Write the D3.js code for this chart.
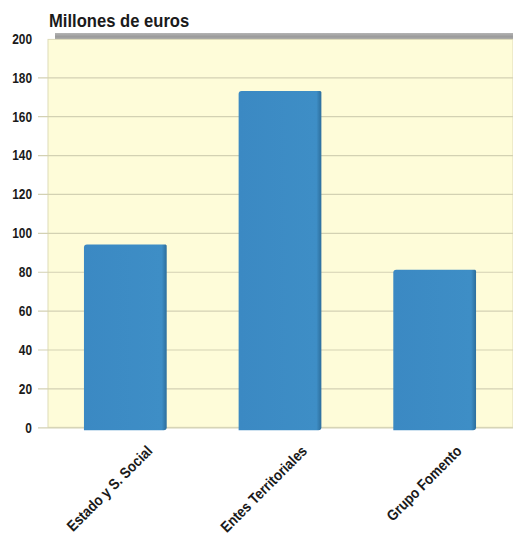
<!DOCTYPE html>
<html>
<head>
<meta charset="utf-8">
<script src="https://cdn.jsdelivr.net/npm/d3@7"></script>
<style>
  html, body { margin: 0; padding: 0; background: #ffffff; }
  svg { display: block; }
  text { font-family: "Liberation Sans", Arial, sans-serif; font-weight: bold; fill: #1a1a1a; }
</style>
</head>
<body>
<svg id="chart" width="513" height="538"></svg>
<script>
const categories = ["Estado y S. Social", "Entes Territoriales", "Grupo Fomento"];
const values = [94, 173, 81];
const yTicks = [0, 20, 40, 60, 80, 100, 120, 140, 160, 180, 200];
const title = "Millones de euros";

const svg = d3.select("#chart");
const plot = { left: 48, right: 513, top: 39, bottom: 427 };

const x = d3.scaleBand()
  .domain(categories)
  .range([plot.left, plot.right - 1])
  .paddingInner(0.465)
  .paddingOuter(0.2325);

const y = d3.scaleLinear()
  .domain([0, 200])
  .range([427.3, 38.4]);

const defs = svg.append("defs");
const gTop = defs.append("linearGradient").attr("id", "topwall").attr("x1", 0).attr("y1", 0).attr("x2", 0).attr("y2", 1);
gTop.append("stop").attr("offset", "0%").attr("stop-color", "#b4b4b4");
gTop.append("stop").attr("offset", "50%").attr("stop-color", "#9c9c9c");
gTop.append("stop").attr("offset", "100%").attr("stop-color", "#aaaaaa");

const gBar = defs.append("linearGradient").attr("id", "bar").attr("x1", 0).attr("y1", 0).attr("x2", 1).attr("y2", 0);
gBar.append("stop").attr("offset", "0%").attr("stop-color", "#3b89c3");
gBar.append("stop").attr("offset", "94%").attr("stop-color", "#3e8ec6");
gBar.append("stop").attr("offset", "98%").attr("stop-color", "#3278a9");
gBar.append("stop").attr("offset", "100%").attr("stop-color", "#2e6f9e");

// top gray wall (3D effect)
svg.append("rect")
  .attr("x", plot.left + 7).attr("y", 33)
  .attr("width", plot.right - plot.left - 7).attr("height", 7)
  .attr("fill", "url(#topwall)");

// plot background
svg.append("rect")
  .attr("x", plot.left).attr("y", y(200) + 1)
  .attr("width", plot.right - plot.left).attr("height", y(0) - y(200) - 1)
  .attr("fill", "#fefcd9")
  .attr("stroke", "#dedbb8").attr("stroke-width", 1);

// gridlines + ticks
const yAxis = d3.axisLeft(y).tickValues(yTicks).tickSize(-(plot.right - 38)).tickPadding(6);
const ga = svg.append("g").attr("transform", `translate(${plot.right},0)`);
ga.call(yAxis);
ga.select(".domain").remove();
ga.selectAll(".tick line")
  .attr("stroke", "#d3d1b3").attr("stroke-width", 1.2)
  .attr("x1", -(plot.right - 38)).attr("x2", 0)
  .filter(d => d === 200).remove();
ga.selectAll(".tick text")
  .attr("x", null)
  .attr("dy", null)
  .attr("transform", `translate(${-(plot.right - 32)},0) scale(0.85,1)`)
  .attr("dominant-baseline", "central")
  .attr("text-anchor", "end")
  .style("font-size", "14px")
  .style("font-family", "'Liberation Sans', Arial, sans-serif")
  .style("font-weight", "bold")
  .attr("fill", "#1a1a1a");

// bars
const r = 3;
svg.append("g").selectAll("path")
  .data(categories.map((c, i) => ({ c, v: values[i] })))
  .join("path")
  .attr("d", d => {
    const x0 = x(d.c), x1 = x(d.c) + x.bandwidth();
    const y0 = y(d.v), y1 = y(0) + 3;
    return `M${x0},${y0 + r} Q${x0},${y0} ${x0 + r},${y0} L${x1 - 1},${y0} L${x1},${y0 + 1}
            L${x1},${y1 - r} Q${x1},${y1} ${x1 - r},${y1} L${x0},${y1} Z`;
  })
  .attr("fill", "url(#bar)");

// category labels
svg.append("g").selectAll("text")
  .data(categories)
  .join("text")
  .attr("transform", d => `translate(${x(d) + x.bandwidth() / 2 + 28},452) rotate(-45) scale(0.88,1)`)
  .attr("text-anchor", "end")
  .style("font-size", "15px")
  .text(d => d);

// title
svg.append("text")
  .attr("x", 49).attr("y", 27)
  .attr("transform", "translate(49,27) scale(0.95,1) translate(-49,-27)")
  .style("font-size", "17.5px")
  .text(title);
</script>
</body>
</html>
